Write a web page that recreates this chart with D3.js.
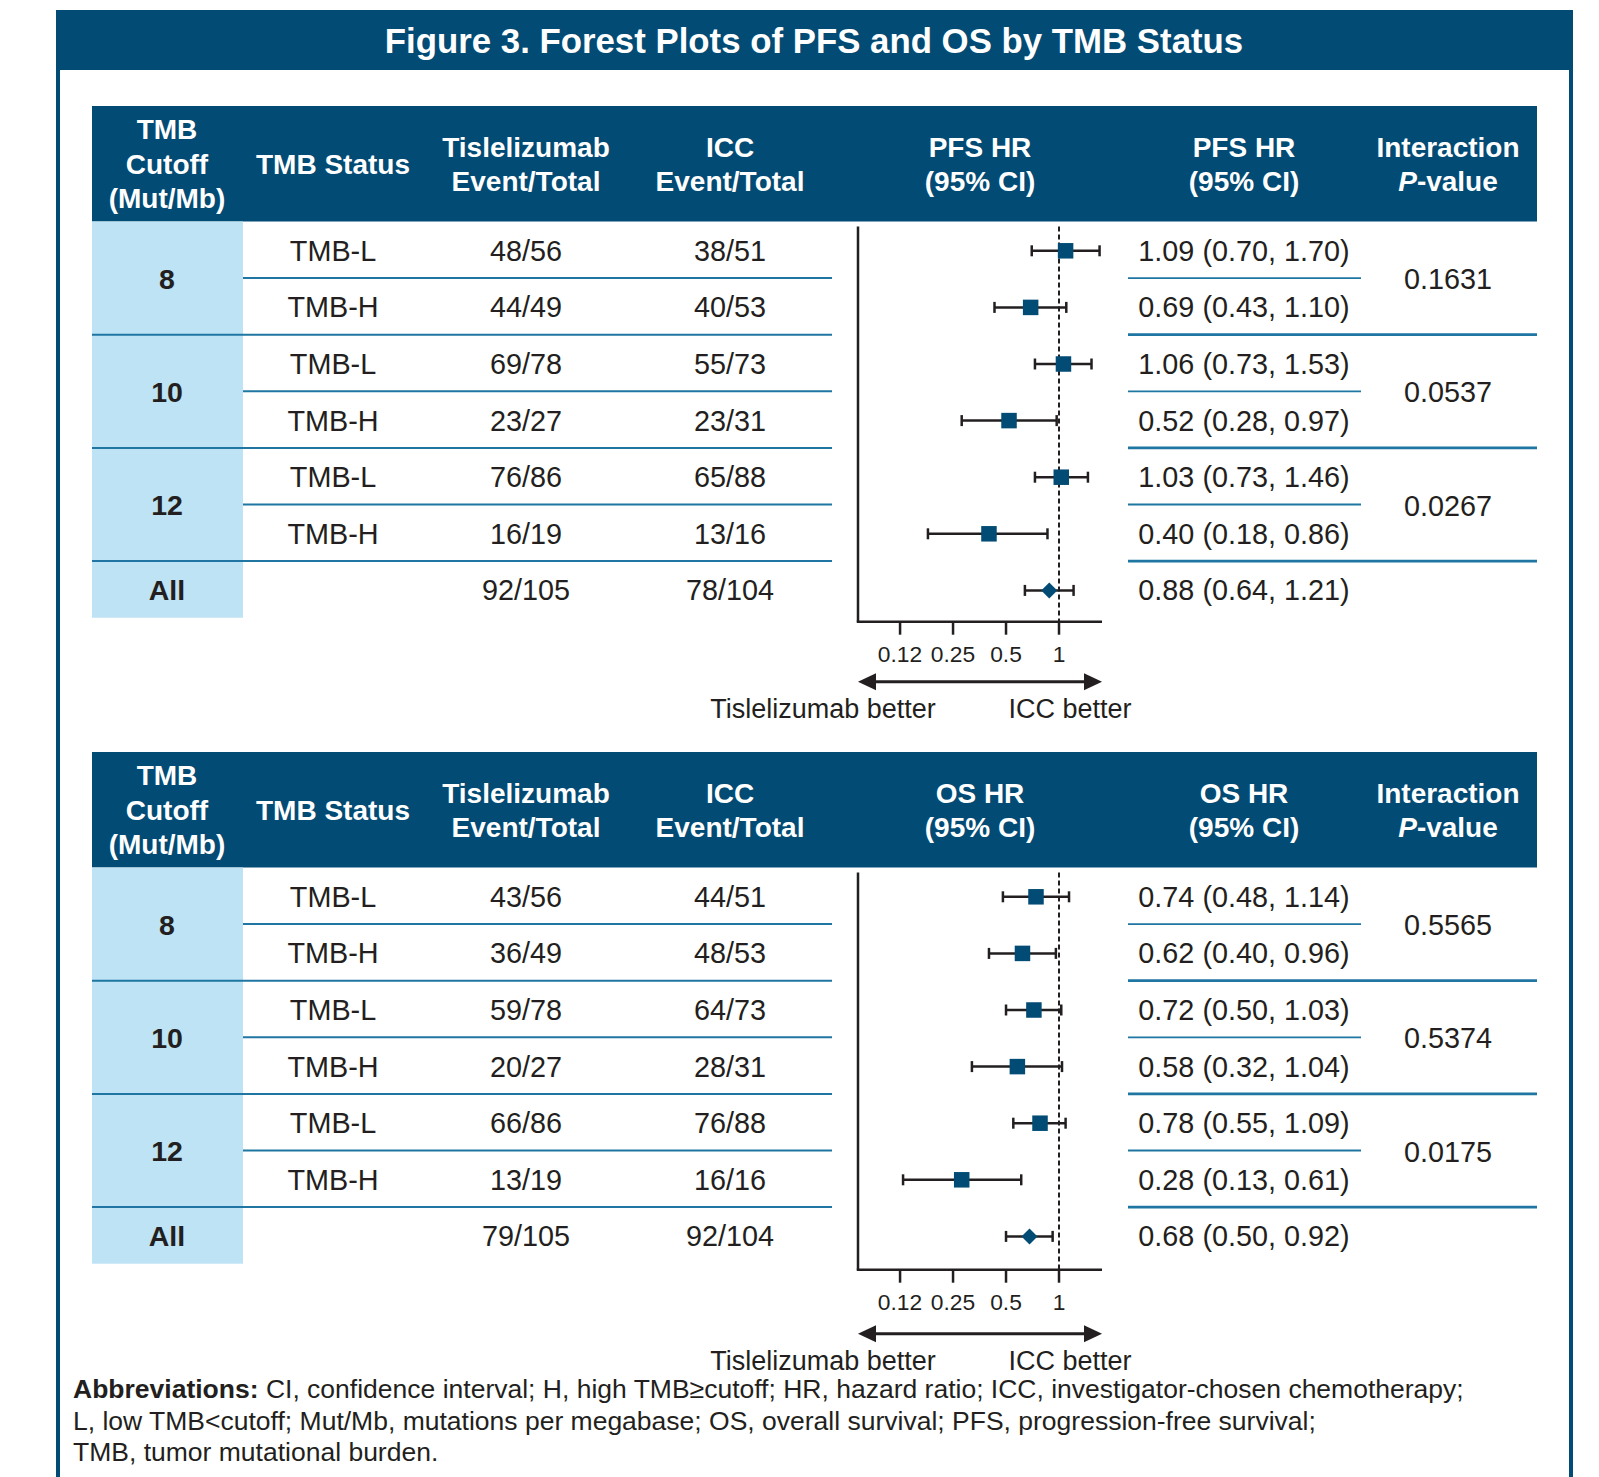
<!DOCTYPE html>
<html lang="en">

<head>
    <meta charset="utf-8" />
    <title>Figure 3. Forest Plots of PFS and OS by TMB Status</title>
    <script src="https://cdn.jsdelivr.net/npm/d3@7"></script>
    <style>
        body { margin: 0; background: #fff; }
        svg text { font-family: "Liberation Sans", Arial, sans-serif; fill: #231f20; }
    </style>
</head>

<body>
</body>

<script>
    // ---- data ----
    let rowCutoff = ["8", "8", "10", "10", "12", "12", "All"];
    let rowStatus = ["TMB-L", "TMB-H", "TMB-L", "TMB-H", "TMB-L", "TMB-H", ""];
    let groupCutoffs = ["8", "10", "12", "All"];

    let pfsTisle = ["48/56", "44/49", "69/78", "23/27", "76/86", "16/19", "92/105"];
    let pfsIcc = ["38/51", "40/53", "55/73", "23/31", "65/88", "13/16", "78/104"];
    let pfsHR = [1.09, 0.69, 1.06, 0.52, 1.03, 0.40, 0.88];
    let pfsLow = [0.70, 0.43, 0.73, 0.28, 0.73, 0.18, 0.64];
    let pfsHigh = [1.70, 1.10, 1.53, 0.97, 1.46, 0.86, 1.21];
    let pfsP = ["0.1631", "0.0537", "0.0267"];

    let osTisle = ["43/56", "36/49", "59/78", "20/27", "66/86", "13/19", "79/105"];
    let osIcc = ["44/51", "48/53", "64/73", "28/31", "76/88", "16/16", "92/104"];
    let osHR = [0.74, 0.62, 0.72, 0.58, 0.78, 0.28, 0.68];
    let osLow = [0.48, 0.40, 0.50, 0.32, 0.55, 0.13, 0.50];
    let osHigh = [1.14, 0.96, 1.03, 1.04, 1.09, 0.61, 0.92];
    let osP = ["0.5565", "0.5374", "0.0175"];

    let tickValues = [0.125, 0.25, 0.5, 1];
    let tickLabels = ["0.12", "0.25", "0.5", "1"];

    let abbrevLines = [
        "CI, confidence interval; H, high TMB\u2265cutoff; HR, hazard ratio; ICC, investigator-chosen chemotherapy;",
        "L, low TMB<cutoff; Mut/Mb, mutations per megabase; OS, overall survival; PFS, progression-free survival;",
        "TMB, tumor mutational burden."
    ];

    // ---- layout ----
    let W = 1599, H = 1477;
    let navy = '#024b74', lightBlue = '#bde3f4', lineBlue = '#1f76a2', ink = '#231f20';
    let table = { left: 92, right: 1537, headTop: 106, headH: 115.5, rowH: 56.6 };
    let col = { cutoff: 167, status: 333, tisle: 526, icc: 730, plot: 980, hrText: 1244, p: 1448 };
    let cutoffRight = 243, leftTableRight = 832, rightTableLeft = 1128, rightInnerRight = 1361;
    let panelGap = 646;

    let fmt = d3.format('.2f');

    let svg = d3.select('body').append('svg')
        .attr('width', W)
        .attr('height', H);

    // frame + title band
    svg.append('rect')
        .attr('x', 58).attr('y', 12)
        .attr('width', 1513).attr('height', H + 20)
        .attr('fill', 'none')
        .attr('stroke', navy)
        .attr('stroke-width', 4);
    svg.append('rect')
        .attr('x', 56).attr('y', 10)
        .attr('width', 1517).attr('height', 60)
        .attr('fill', navy);
    svg.append('text')
        .attr('x', 814).attr('y', 41)
        .attr('dy', '0.35em')
        .attr('text-anchor', 'middle')
        .style('font-size', '34.8px')
        .style('font-weight', 'bold')
        .style('fill', '#fff')
        .text('Figure 3. Forest Plots of PFS and OS by TMB Status');

    function drawPanel(offset, label, tisle, icc, hr, low, high, pvals, axisShift, arrowGap) {
        let g = svg.append('g').attr('transform', `translate(0,${offset})`);
        let rowsTop = table.headTop + table.headH;

        let y = d3.scaleBand()
            .domain(d3.range(rowCutoff.length))
            .range([rowsTop, rowsTop + table.rowH * rowCutoff.length]);
        let cy = i => y(i) + y.bandwidth() / 2 + 1;

        let x = d3.scaleLog().base(2)
            .domain([0.0721, 1.755])
            .range([858, 1102]);

        // header band
        g.append('rect')
            .attr('x', table.left).attr('y', table.headTop)
            .attr('width', table.right - table.left).attr('height', table.headH)
            .attr('fill', navy);

        let headers = [
            { x: col.cutoff, lines: ['TMB', 'Cutoff', '(Mut/Mb)'] },
            { x: col.status, lines: ['TMB Status'] },
            { x: col.tisle, lines: ['Tislelizumab', 'Event/Total'] },
            { x: col.icc, lines: ['ICC', 'Event/Total'] },
            { x: col.plot, lines: [label + ' HR', '(95% CI)'] },
            { x: col.hrText, lines: [label + ' HR', '(95% CI)'] },
            { x: col.p, lines: ['Interaction', 'P-value'] }
        ];
        let lineGap = 34.5;
        headers.forEach(h => {
            let mid = table.headTop + 58;
            let start = mid - (h.lines.length - 1) * lineGap / 2;
            h.lines.forEach((ln, k) => {
                let t = g.append('text')
                    .attr('x', h.x)
                    .attr('y', start + k * lineGap)
                    .attr('dy', '0.35em')
                    .attr('text-anchor', 'middle')
                    .style('font-size', '28px')
                    .style('font-weight', 'bold')
                    .style('fill', '#fff');
                if (ln === 'P-value') {
                    t.append('tspan').style('font-style', 'italic').text('P');
                    t.append('tspan').text('-value');
                } else {
                    t.text(ln);
                }
            });
        });

        // light blue cutoff cells
        let groups = groupCutoffs.map(c => {
            let idx = d3.range(rowCutoff.length).filter(i => rowCutoff[i] === c);
            return { label: c, first: d3.min(idx), last: d3.max(idx) };
        });
        g.selectAll('.cutoff-cell')
            .data(groups)
            .enter().append('rect')
            .attr('class', 'cutoff-cell')
            .attr('x', table.left)
            .attr('y', d => y(d.first))
            .attr('width', cutoffRight - table.left)
            .attr('height', d => y(d.last) + y.bandwidth() - y(d.first))
            .attr('fill', lightBlue);
        g.selectAll('.cutoff-label')
            .data(groups)
            .enter().append('text')
            .attr('x', col.cutoff)
            .attr('y', d => (y(d.first) + y(d.last) + y.bandwidth()) / 2 + 1)
            .attr('dy', '0.35em')
            .attr('text-anchor', 'middle')
            .style('font-size', '28.5px')
            .style('font-weight', 'bold')
            .text(d => d.label);

        // row separator lines
        d3.range(1, rowCutoff.length).forEach(i => {
            let groupBreak = rowCutoff[i] !== rowCutoff[i - 1];
            g.append('line')
                .attr('x1', groupBreak ? table.left : cutoffRight)
                .attr('x2', leftTableRight)
                .attr('y1', y(i)).attr('y2', y(i))
                .attr('stroke', lineBlue)
                .attr('stroke-width', 2);
            g.append('line')
                .attr('x1', rightTableLeft)
                .attr('x2', groupBreak ? table.right : rightInnerRight)
                .attr('y1', y(i)).attr('y2', y(i))
                .attr('stroke', lineBlue)
                .attr('stroke-width', groupBreak ? 2.8 : 1.8);
        });

        // text columns
        let textCols = [
            { x: col.status, vals: rowStatus },
            { x: col.tisle, vals: tisle },
            { x: col.icc, vals: icc },
            { x: col.hrText, vals: hr.map((d, i) => `${fmt(d)} (${fmt(low[i])}, ${fmt(high[i])})`) }
        ];
        textCols.forEach(c => {
            g.selectAll(null)
                .data(c.vals)
                .enter().append('text')
                .attr('x', c.x)
                .attr('y', (d, i) => cy(i))
                .attr('dy', '0.35em')
                .attr('text-anchor', 'middle')
                .style('font-size', '28.8px')
                .text(d => d);
        });

        // interaction p-values, centred on each two-row group
        g.selectAll('.pval')
            .data(groups.slice(0, pvals.length))
            .enter().append('text')
            .attr('x', col.p)
            .attr('y', d => y(d.last) + 1)
            .attr('dy', '0.35em')
            .attr('text-anchor', 'middle')
            .style('font-size', '28.8px')
            .text((d, i) => pvals[i]);

        // forest plot axes
        let axisY = y(rowCutoff.length - 1) + y.bandwidth() + 4 + axisShift;
        g.append('line')
            .attr('x1', x.range()[0]).attr('x2', x.range()[0])
            .attr('y1', rowsTop + 5).attr('y2', axisY)
            .attr('stroke', ink).attr('stroke-width', 2.5);
        g.append('line')
            .attr('x1', x.range()[0] - 1.25).attr('x2', x.range()[1])
            .attr('y1', axisY).attr('y2', axisY)
            .attr('stroke', ink).attr('stroke-width', 2.5);
        g.selectAll('.tick')
            .data(tickValues)
            .enter().append('line')
            .attr('x1', d => x(d)).attr('x2', d => x(d))
            .attr('y1', axisY).attr('y2', axisY + 13)
            .attr('stroke', ink).attr('stroke-width', 2.5);
        g.selectAll('.tick-label')
            .data(tickValues)
            .enter().append('text')
            .attr('x', d => x(d))
            .attr('y', axisY + 32.5)
            .attr('dy', '0.35em')
            .attr('text-anchor', 'middle')
            .style('font-size', '22.8px')
            .text((d, i) => tickLabels[i]);

        // reference line at HR = 1
        g.append('line')
            .attr('x1', x(1)).attr('x2', x(1))
            .attr('y1', rowsTop + 5).attr('y2', axisY)
            .attr('stroke', ink).attr('stroke-width', 2)
            .attr('stroke-dasharray', '5,3');

        // CI whiskers
        let ci = g.selectAll('.ci')
            .data(hr)
            .enter().append('g')
            .attr('class', 'ci');
        ci.append('line')
            .attr('x1', (d, i) => x(low[i])).attr('x2', (d, i) => x(high[i]))
            .attr('y1', (d, i) => cy(i)).attr('y2', (d, i) => cy(i))
            .attr('stroke', ink).attr('stroke-width', 2.5);
        ci.append('line')
            .attr('x1', (d, i) => x(low[i])).attr('x2', (d, i) => x(low[i]))
            .attr('y1', (d, i) => cy(i) - 5.5).attr('y2', (d, i) => cy(i) + 5.5)
            .attr('stroke', ink).attr('stroke-width', 2.5);
        ci.append('line')
            .attr('x1', (d, i) => x(high[i])).attr('x2', (d, i) => x(high[i]))
            .attr('y1', (d, i) => cy(i) - 5.5).attr('y2', (d, i) => cy(i) + 5.5)
            .attr('stroke', ink).attr('stroke-width', 2.5);

        // markers: squares for subgroups, diamond for All
        let sq = 15.5, dm = 8;
        ci.each(function (d, i) {
            let px = x(d), py = cy(i);
            if (rowCutoff[i] === 'All') {
                d3.select(this).append('path')
                    .attr('d', `M${px - dm},${py}L${px},${py - dm}L${px + dm},${py}L${px},${py + dm}Z`)
                    .attr('fill', navy);
            } else {
                d3.select(this).append('rect')
                    .attr('x', px - sq / 2).attr('y', py - sq / 2)
                    .attr('width', sq).attr('height', sq)
                    .attr('fill', navy);
            }
        });

        // direction arrow
        let arrowY = axisY + arrowGap, x0 = x.range()[0], x1 = x.range()[1], ah = 18, aw = 8.5;
        g.append('line')
            .attr('x1', x0 + ah - 2).attr('x2', x1 - ah + 2)
            .attr('y1', arrowY).attr('y2', arrowY)
            .attr('stroke', ink).attr('stroke-width', 3);
        g.append('path')
            .attr('d', `M${x0},${arrowY}L${x0 + ah},${arrowY - aw}L${x0 + ah},${arrowY + aw}Z`)
            .attr('fill', ink);
        g.append('path')
            .attr('d', `M${x1},${arrowY}L${x1 - ah},${arrowY - aw}L${x1 - ah},${arrowY + aw}Z`)
            .attr('fill', ink);
        g.append('text')
            .attr('x', 823).attr('y', arrowY + 27)
            .attr('dy', '0.35em')
            .attr('text-anchor', 'middle')
            .style('font-size', '27px')
            .text('Tislelizumab better');
        g.append('text')
            .attr('x', 1070).attr('y', arrowY + 27)
            .attr('dy', '0.35em')
            .attr('text-anchor', 'middle')
            .style('font-size', '27px')
            .text('ICC better');
    }

    drawPanel(0, 'PFS', pfsTisle, pfsIcc, pfsHR, pfsLow, pfsHigh, pfsP, 0, 60);
    drawPanel(panelGap, 'OS', osTisle, osIcc, osHR, osLow, osHigh, osP, 2, 64);

    // abbreviations footnote
    let foot = svg.append('g');
    abbrevLines.forEach((ln, k) => {
        let t = foot.append('text')
            .attr('x', 73)
            .attr('y', 1389 + k * 31.6)
            .attr('dy', '0.35em')
            .style('font-size', '26.5px');
        if (k === 0) {
            t.append('tspan').style('font-weight', 'bold').text('Abbreviations: ');
        }
        t.append('tspan').text(ln);
    });

</script>

</html>
